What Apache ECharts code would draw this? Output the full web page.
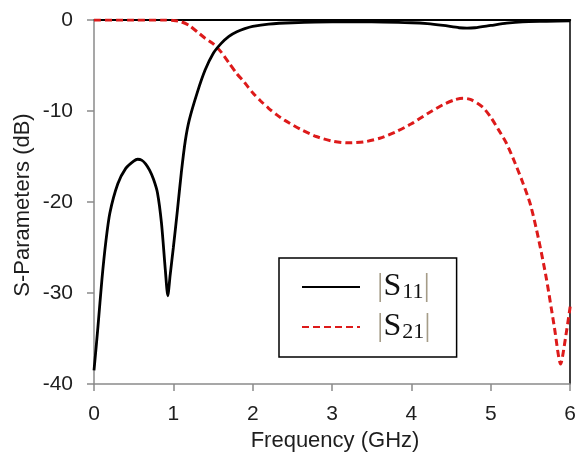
<!DOCTYPE html>
<html>
<head>
<meta charset="utf-8">
<script src="https://cdn.jsdelivr.net/npm/echarts@6/dist/echarts.min.js"></script>
<style>
  html, body { margin: 0; padding: 0; background: #fff; }
  #chart { width: 579px; height: 460px; }
</style>
</head>
<body>
<div id="chart"></div>
<script>
// Frequency sweep (GHz) and measured S-parameters (dB)
const s11Freq = [0, 0.05, 0.1, 0.15, 0.2, 0.3, 0.4, 0.5, 0.55, 0.6, 0.65, 0.7, 0.75, 0.8, 0.85, 0.9, 0.93, 0.96, 1.0, 1.05, 1.1, 1.15, 1.2, 1.3, 1.4, 1.5, 1.6, 1.7, 1.8, 1.9, 2.0, 2.2, 2.5, 3.0, 3.5, 4.0, 4.2, 4.4, 4.6, 4.7, 4.8, 5.0, 5.2, 5.4, 5.7, 6.0];
const s11dB   = [-38.5, -33.7, -28.5, -24.3, -21.2, -18.0, -16.3, -15.5, -15.3, -15.4, -15.8, -16.5, -17.5, -19.0, -22.3, -27.6, -30.3, -28.0, -25.0, -21.0, -16.8, -13.3, -11.0, -8.0, -5.5, -3.7, -2.6, -1.8, -1.3, -0.95, -0.7, -0.45, -0.3, -0.2, -0.2, -0.3, -0.4, -0.6, -0.85, -0.9, -0.85, -0.6, -0.35, -0.2, -0.15, -0.1];

const s21Freq = [0, 0.5, 0.9, 1.0, 1.1, 1.2, 1.3, 1.4, 1.5, 1.6, 1.7, 1.8, 1.9, 2.0, 2.1, 2.2, 2.3, 2.4, 2.6, 2.8, 3.0, 3.2, 3.4, 3.6, 3.8, 4.0, 4.2, 4.4, 4.55, 4.65, 4.75, 4.9, 5.0, 5.1, 5.2, 5.3, 5.4, 5.5, 5.6, 5.7, 5.8, 5.88, 5.94, 6.0];
const s21dB   = [0, 0, 0, -0.05, -0.2, -0.6, -1.3, -2.0, -2.6, -3.5, -4.7, -5.9, -6.9, -8.0, -8.9, -9.7, -10.4, -11.0, -12.0, -12.8, -13.3, -13.5, -13.4, -13.0, -12.3, -11.4, -10.3, -9.3, -8.75, -8.6, -8.75, -9.6, -10.7, -12.1, -13.6, -15.6, -17.8, -20.3, -24.0, -28.4, -33.7, -37.8, -35.0, -31.5];

const xTicks = [0, 1, 2, 3, 4, 5, 6];
const yTicks = [-40, -30, -20, -10, 0];
const seriesNames = ['S11', 'S21'];

const pair = (xs, ys) => xs.map((x, i) => [x, ys[i]]);

const chart = echarts.init(document.getElementById('chart'), null, { renderer: 'canvas' });

const labelFont = { fontFamily: 'Liberation Sans, Arial, sans-serif', fontSize: 21, color: '#1e1e1e' };
const xMin = xTicks[0], xMax = xTicks[xTicks.length - 1];
const yMin = yTicks[0], yMax = yTicks[yTicks.length - 1];

const serif = 'Liberation Serif, Times New Roman, serif';
const subRich = {
  bar: { fontFamily: serif, fontSize: 32, color: '#a59c88', lineHeight: 32, verticalAlign: 'middle' },
  s:   { fontFamily: serif, fontSize: 32, color: '#111', lineHeight: 32, verticalAlign: 'middle' },
  sub: { fontFamily: serif, fontSize: 22, color: '#111', lineHeight: 22, verticalAlign: 'bottom', padding: [0, 0, 0, 1] }
};

chart.setOption({
  animation: false,
  backgroundColor: '#fff',
  grid: { left: 94, right: 2, top: 20, bottom: 76, containLabel: false },
  xAxis: [{
    type: 'value', min: xMin, max: xMax, interval: 1,
    axisLine: { show: true, onZero: false, lineStyle: { color: '#8a8a8a', width: 1.5 } },
    axisTick: { show: true, inside: false, length: 7, lineStyle: { color: '#8a8a8a', width: 1.5 } },
    axisLabel: Object.assign({ margin: 20 }, labelFont),
    splitLine: { show: false }
  }, {
    type: 'value', position: 'top', min: xMin, max: xMax,
    axisLine: { show: true, onZero: false, lineStyle: { color: '#000', width: 2 } },
    axisTick: { show: false }, axisLabel: { show: false }, splitLine: { show: false }
  }],
  yAxis: [{
    type: 'value', min: yMin, max: yMax, interval: 10,
    axisLine: { show: true, onZero: false, lineStyle: { color: '#8a8a8a', width: 1.5 } },
    axisTick: { show: true, inside: false, length: 7, lineStyle: { color: '#8a8a8a', width: 1.5 } },
    axisLabel: Object.assign({ margin: 21 }, labelFont),
    splitLine: { show: false }
  }, {
    type: 'value', position: 'right', min: yMin, max: yMax,
    axisLine: { show: true, onZero: false, lineStyle: { color: '#000', width: 1.5 } },
    axisTick: { show: false }, axisLabel: { show: false }, splitLine: { show: false }
  }],
  legend: {
    show: true,
    orient: 'vertical',
    left: 279, top: 258,
    padding: [13, 26, 14, 22],
    borderColor: '#000', borderWidth: 1.5, borderRadius: 0,
    backgroundColor: '#fff',
    itemWidth: 58, itemHeight: 14, itemGap: 8,
    data: [
      { name: seriesNames[0], itemStyle: { opacity: 0 } },
      { name: seriesNames[1], itemStyle: { opacity: 0 } }
    ],
    formatter: name => '{bar||}{s|S}{sub|' + name.slice(1) + '}{bar||}',
    textStyle: { rich: subRich, padding: [0, 0, 0, 12] }
  },
  series: [{
    name: seriesNames[0], type: 'line', data: pair(s11Freq, s11dB),
    symbol: 'none', smooth: 0.25, clip: true,
    lineStyle: { color: '#000', width: 2.8 }, itemStyle: { color: '#000' }, z: 3
  }, {
    name: seriesNames[1], type: 'line', data: pair(s21Freq, s21dB),
    symbol: 'none', smooth: 0.25, clip: true,
    lineStyle: { color: '#dd1a1a', width: 3, type: [7, 4] }, itemStyle: { color: '#dd1a1a' }, z: 2
  }],
  graphic: [{
    type: 'text', x: 335, y: 441,
    style: { text: 'Frequency (GHz)', font: '22px "Liberation Sans", Arial, sans-serif', fill: '#1e1e1e', textAlign: 'center', textVerticalAlign: 'middle' }
  }, {
    type: 'text', x: 23, y: 205, rotation: Math.PI / 2,
    style: { text: 'S-Parameters (dB)', font: '22px "Liberation Sans", Arial, sans-serif', fill: '#1e1e1e', textAlign: 'center', textVerticalAlign: 'middle' }
  }]
});
</script>
</body>
</html>
